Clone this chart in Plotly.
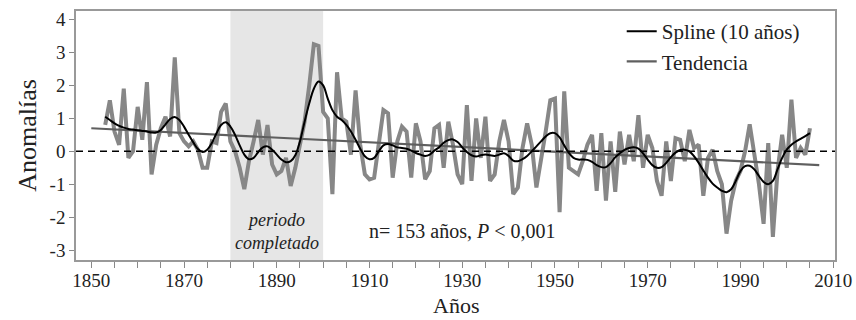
import plotly.graph_objects as go

years = list(range(1853, 2006))
anomalias = [
    0.8, 1.55, 0.6, 0.2, 1.9, -0.2, 0.0, 1.35, 0.35, 2.1,            # 1853-1862
    -0.7, 0.2, 0.7, 1.05, 0.45, 2.85, 0.55, 0.3, 0.15, 0.3,          # 1863-1872
    0.05, -0.5, -0.5, 0.3, 0.25, 1.2, 1.45, 0.3, 0.0, -0.5,          # 1873-1882
    -1.15, -0.3, 0.3, 0.95, -0.1, 0.8, -0.4, -0.7, -0.6, -0.2,       # 1883-1892
    -1.05, -0.5, 0.2, 0.9, 2.0, 3.25, 3.2, 1.2, 1.0, -1.3,           # 1893-1902
    2.4, 1.0, 0.9, -0.1, 1.85, 0.2, -0.7, -0.85, -0.8, 0.2,          # 1903-1912
    1.25, 1.15, -0.8, 0.3, 0.75, 0.6, -0.8, 0.85, 0.3, -0.85,        # 1913-1922
    -0.6, 0.7, 0.8, -0.5, 0.9, 0.2, -0.7, -1.0, 1.4, -0.9,           # 1923-1932
    1.0, -0.2, 1.05, -0.9, -0.7, 0.3, 0.95, 0.3, -1.3, -1.1,         # 1933-1942
    0.1, 0.85, 0.2, -1.1, -0.3, 0.6, 1.55, 1.6, -1.85, 1.82,         # 1943-1952
    -0.5, -0.6, -0.7, -0.3, 0.2, 0.5, -1.2, 0.55, -1.5, 0.3,         # 1953-1962
    -1.23, 0.6, -0.4, 0.5, -0.3, 1.1, -0.5, 0.5, 0.1, -0.9,          # 1963-1972
    -1.35, 0.3, -0.9, 0.4, 0.35, -0.3, 0.65, 0.1, 0.2, -1.35,        # 1973-1982
    -0.2, 0.05, -0.6, -1.0, -2.5, -1.5, -0.9, -0.6, 0.0, 0.82,       # 1983-1992
    0.0, -1.0, -2.2, 0.25, -2.6, -0.6, 0.5, -0.5, 1.57, -0.2,        # 1993-2002
    0.1, -0.1, 0.7,                                                   # 2003-2005
]
spline = [
    1.05, 0.95, 0.85, 0.77, 0.72, 0.68, 0.66, 0.64, 0.62, 0.6,
    0.57, 0.57, 0.65, 0.82, 0.98, 1.04, 0.95, 0.75, 0.5, 0.27,
    0.07, -0.02, 0.05, 0.25, 0.55, 0.8, 0.88, 0.75, 0.5, 0.18,
    -0.1, -0.24, -0.2, -0.02, 0.12, 0.15, 0.05, -0.1, -0.25, -0.33,
    -0.3, -0.12, 0.3, 0.9, 1.45, 1.9, 2.12, 2.0, 1.6, 1.25,
    1.05, 0.95, 0.8, 0.6, 0.35, 0.08, -0.15, -0.24, -0.2, 0.0,
    0.18, 0.22, 0.18, 0.12, 0.1, 0.08, 0.02, -0.05, -0.1, -0.14,
    -0.1, 0.02, 0.12, 0.26, 0.34, 0.36, 0.28, 0.12, -0.02, -0.12,
    -0.16, -0.12, -0.1, -0.12, -0.14, -0.1, -0.06, -0.14, -0.28, -0.3,
    -0.24, -0.14, 0.0, 0.15, 0.3, 0.45, 0.55, 0.55, 0.42, 0.18,
    -0.05, -0.2, -0.25, -0.25, -0.26, -0.32, -0.42, -0.48, -0.48, -0.36,
    -0.18, -0.06, 0.04, 0.1, 0.12, 0.08, -0.06, -0.25, -0.42, -0.5,
    -0.48, -0.35, -0.18, -0.04, 0.04, 0.05, 0.0, -0.15, -0.35, -0.58,
    -0.8, -0.98, -1.1, -1.2, -1.24, -1.15, -0.9, -0.6, -0.45, -0.44,
    -0.55, -0.75, -0.93, -1.0, -0.9, -0.55, -0.2, 0.05, 0.2, 0.3,
    0.38, 0.46, 0.55,
]
trend_years = [1850, 2007]
trend_values = [0.7, -0.42]
periodo = [1880, 1900]
y_tickvals = [4, 3, 2, 1, 0, -1, -2, -3]
y_ticktext = ["4", "3", "2", "1", "0", "-1", "-2", "-3"]
x_tickvals = [1850, 1870, 1890, 1910, 1930, 1950, 1970, 1990, 2010]

FONT = "Liberation Serif, Times New Roman, serif"

fig = go.Figure()
fig.add_trace(go.Scatter(x=years, y=anomalias, mode="lines",
                         line=dict(color="#878787", width=4),
                         showlegend=False, hoverinfo="skip"))
fig.add_trace(go.Scatter(x=trend_years, y=trend_values, mode="lines",
                         name="Tendencia",
                         line=dict(color="#5f5f5f", width=2.2)))
fig.add_trace(go.Scatter(x=years, y=spline, mode="lines",
                         name="Spline (10 años)",
                         line=dict(color="black", width=2, shape="spline")))

fig.add_shape(type="rect", xref="x", yref="paper", x0=periodo[0], x1=periodo[1],
              y0=0, y1=1, fillcolor="#e6e6e6", line=dict(width=0), layer="below")
fig.add_shape(type="line", xref="paper", yref="y", x0=0, x1=1, y0=0, y1=0,
              line=dict(color="black", width=1.5, dash="7px,5px"))

fig.add_annotation(x=1890, y=-2.42, xref="x", yref="y",
                   text="<i>periodo<br>completado</i>", showarrow=False,
                   font=dict(family=FONT, size=18, color="#222"))
fig.add_annotation(x=1930, y=-2.42, xref="x", yref="y",
                   text="n= 153 años, <i>P</i> &lt; 0,001", showarrow=False,
                   font=dict(family=FONT, size=20, color="#222"))
# x-axis title placed explicitly below the tick labels
fig.add_annotation(x=0.5, y=0, xref="paper", yref="paper",
                   xanchor="center", yanchor="bottom", yshift=-60,
                   text="Años", showarrow=False,
                   font=dict(family=FONT, size=22, color="#222"))

fig.update_layout(
    width=856, height=320,
    margin=dict(l=76, r=21, t=11, b=60),
    plot_bgcolor="white", paper_bgcolor="white",
    font=dict(family=FONT, size=19, color="#222"),
    legend=dict(x=0.719, y=1.0, xanchor="left", yanchor="top",
                traceorder="reversed", bgcolor="rgba(0,0,0,0)",
                font=dict(family=FONT, size=21, color="#222"),
                itemwidth=30, tracegroupgap=0),
    xaxis=dict(range=[1846.7, 2010.4], tickvals=x_tickvals, automargin=False,
               ticks="outside", ticklen=6, tickcolor="#888", tickwidth=1,
               ticklabelstandoff=-4,
               showline=True, linecolor="#999", linewidth=1.5, mirror=True,
               showgrid=False, zeroline=False,
               minor=dict(dtick=5, tick0=1850, ticks="outside", ticklen=6,
                          tickcolor="#888", showgrid=False)),
    yaxis=dict(range=[-3.3, 4.26], tickvals=y_tickvals, ticktext=y_ticktext,
               automargin=False,
               ticks="outside", ticklen=5, tickcolor="#888", tickwidth=1,
               showline=True, linecolor="#999", linewidth=1.5, mirror=True,
               showgrid=False, zeroline=False,
               title=dict(text="Anomalías", font=dict(family=FONT, size=26), standoff=6)),
)

fig.write_html("out.html")
